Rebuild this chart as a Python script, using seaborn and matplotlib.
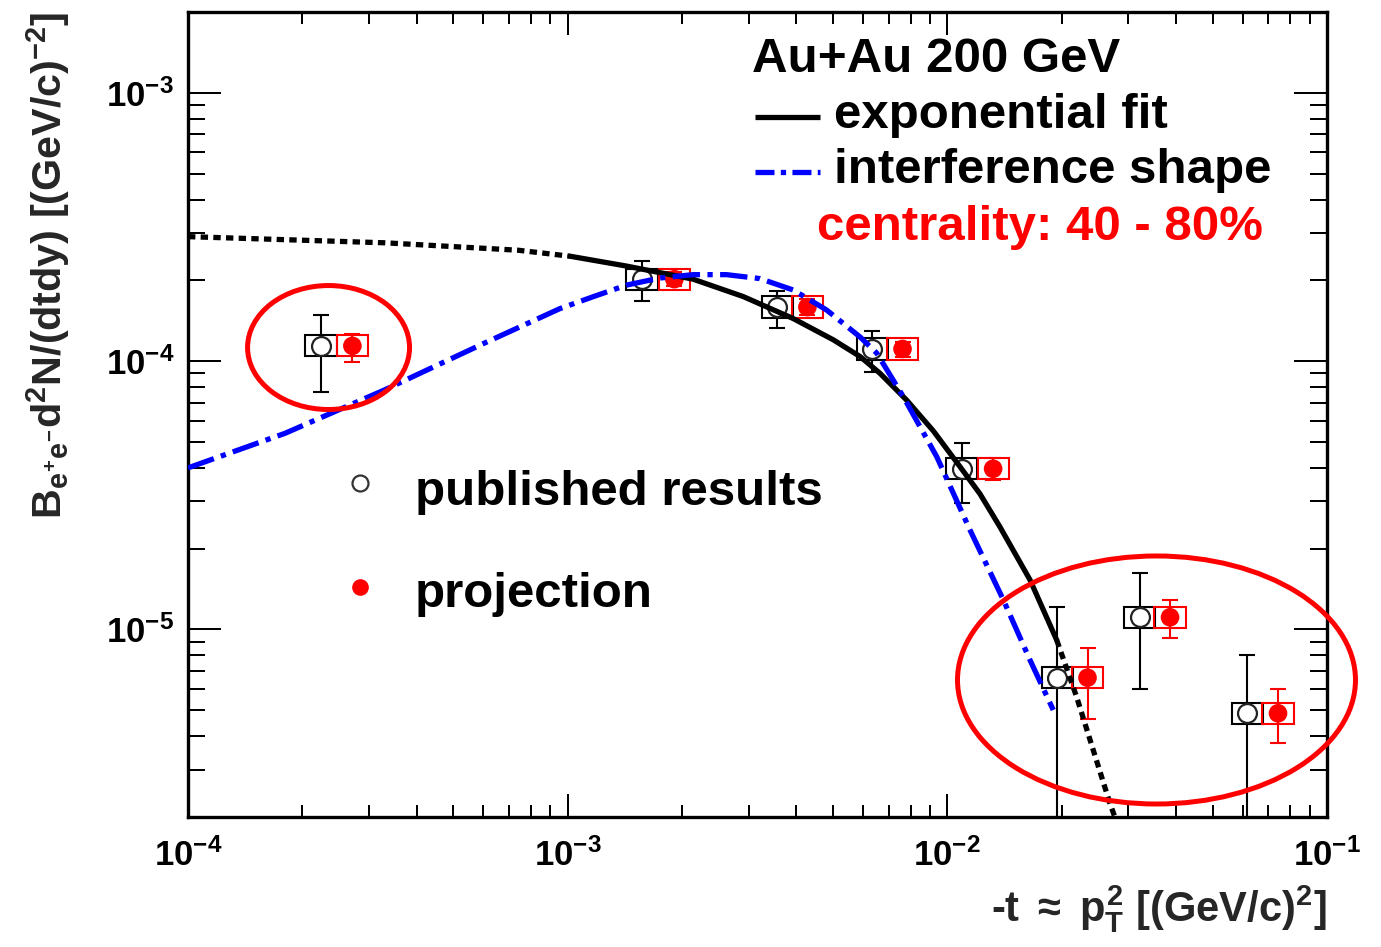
import numpy as np
import matplotlib
matplotlib.use("Agg")
import matplotlib.pyplot as plt
import seaborn as sns
from matplotlib.patches import Rectangle, Ellipse
from matplotlib.ticker import FixedLocator, FixedFormatter, LogLocator, NullFormatter

# ---- published results: -t, yield, upper / lower edge of stat. error ----
pub_t = [2.24e-4, 1.57e-3, 3.57e-3, 6.35e-3, 1.09e-2, 1.95e-2, 3.21e-2, 6.17e-2]
pub_y = [1.14e-4, 2.02e-4, 1.59e-4, 1.11e-4, 3.97e-5, 6.61e-6, 1.11e-5, 4.87e-6]
pub_hi = [1.48e-4, 2.37e-4, 1.82e-4, 1.30e-4, 4.95e-5, 1.21e-5, 1.63e-5, 8.0e-6]
pub_lo = [7.67e-5, 1.67e-4, 1.33e-4, 9.14e-5, 2.96e-5, 0.0, 5.98e-6, 0.0]

# ---- projection ----
proj_t = [2.71e-4, 1.91e-3, 4.28e-3, 7.62e-3, 1.32e-2, 2.34e-2, 3.86e-2, 7.43e-2]
proj_y = [1.14e-4, 2.02e-4, 1.59e-4, 1.11e-4, 3.97e-5, 6.61e-6, 1.11e-5, 4.87e-6]
proj_hi = [1.26e-4, 2.14e-4, 1.70e-4, 1.18e-4, 4.35e-5, 8.53e-6, 1.29e-5, 5.98e-6]
proj_lo = [9.96e-5, 1.90e-4, 1.49e-4, 1.04e-4, 3.60e-5, 4.63e-6, 9.31e-6, 3.78e-6]

# relative systematic uncertainty (half height of the boxes, multiplicative)
sys_factor = 1.095

# ---- exponential fit (solid inside the fit range, dotted outside) ----
fit_t = [1.0e-4, 3.3e-4, 7.4e-4, 1.014e-3, 1.43e-3, 2.14e-3, 2.90e-3, 3.93e-3,
         5.01e-3, 5.89e-3, 6.65e-3, 7.81e-3, 9.18e-3, 1.08e-2, 1.219e-2,
         1.376e-2, 1.651e-2, 1.941e-2, 2.19e-2, 2.68e-2, 2.78e-2]
fit_y = [2.91e-4, 2.76e-4, 2.59e-4, 2.46e-4, 2.26e-4, 2.02e-4, 1.74e-4, 1.44e-4,
         1.20e-4, 1.04e-4, 9.0e-5, 7.16e-5, 5.5e-5, 4.04e-5, 3.2e-5,
         2.41e-5, 1.53e-5, 9.13e-6, 5.61e-6, 2.25e-6, 1.95e-6]
fit_range = (1.014e-3, 1.941e-2)

# ---- interference shape ----
intf_t = [1.0e-4, 1.80e-4, 3.30e-4, 6.06e-4, 9.55e-4, 1.17e-3, 1.43e-3, 1.75e-3,
          2.14e-3, 2.62e-3, 3.21e-3, 3.93e-3, 4.81e-3, 5.89e-3, 6.52e-3,
          7.66e-3, 9.38e-3, 1.147e-2, 1.404e-2, 1.651e-2, 1.901e-2]
intf_y = [4.0e-5, 5.38e-5, 7.82e-5, 1.17e-4, 1.57e-4, 1.74e-4, 1.92e-4, 2.04e-4,
          2.10e-4, 2.10e-4, 2.03e-4, 1.84e-4, 1.55e-4, 1.23e-4, 1.07e-4,
          7.36e-5, 4.40e-5, 2.35e-5, 1.29e-5, 7.69e-6, 5.01e-6]

# ---- axes ticks ----
x_ticks = [1e-4, 1e-3, 1e-2, 1e-1]
x_tick_labels = [r"$10^{-4}$", r"$10^{-3}$", r"$10^{-2}$", r"$10^{-1}$"]
y_ticks = [1e-5, 1e-4, 1e-3]
y_tick_labels = [r"$10^{-5}$", r"$10^{-4}$", r"$10^{-3}$"]

XLABEL = r"-t $\approx$ $p_{T}^{2}$ [(GeV/c)$^{2}$]"
YLABEL = r"B$_{e^{+}e^{-}}$d$^{2}$N/(dtdy) [(GeV/c)$^{-2}$]"

sns.set_theme(style="ticks")
plt.rcParams.update({
    "font.family": ["Liberation Sans", "DejaVu Sans"],
    "font.weight": "bold",
    "mathtext.fontset": "custom",
    "mathtext.rm": "Liberation Sans:bold",
    "mathtext.it": "Liberation Sans:bold",
    "mathtext.bf": "Liberation Sans:bold",
    "mathtext.sf": "Liberation Sans:bold",
    "axes.edgecolor": "black",
    "axes.linewidth": 2.4,
    "xtick.color": "black",
    "ytick.color": "black",
})

LW = 3.8

fig = plt.figure(figsize=(13.81, 9.47), dpi=100)
ax = fig.add_axes([188 / 1381, 130 / 947, 1139 / 1381, 805 / 947])
ax.set_xscale("log")
ax.set_yscale("log")
ax.set_xlim(1e-4, 1e-1)
ax.set_ylim(2e-6, 2e-3)

# systematic boxes
box_w = 10 ** 0.041
for ts, ys, col in ((pub_t, pub_y, "black"), (proj_t, proj_y, "#ff0000")):
    for t, y in zip(ts, ys):
        ax.add_patch(Rectangle((t / box_w, y / sys_factor),
                               t * box_w - t / box_w,
                               y * sys_factor - y / sys_factor,
                               fill=False, ec=col, lw=1.5, zorder=2))

# statistical error bars
floor = 1e-12
pub_err = [np.array(pub_y) - np.maximum(pub_lo, floor), np.array(pub_hi) - np.array(pub_y)]
proj_err = [np.array(proj_y) - np.maximum(proj_lo, floor), np.array(proj_hi) - np.array(proj_y)]
ax.errorbar(pub_t, pub_y, yerr=pub_err, fmt="none", ecolor="black",
            elinewidth=1.5, capsize=5.5, capthick=1.5, zorder=3)
ax.errorbar(proj_t, proj_y, yerr=proj_err, fmt="none", ecolor="#ff0000",
            elinewidth=1.5, capsize=6, capthick=1.5, zorder=3)

# markers
sns.scatterplot(x=pub_t, y=pub_y, ax=ax, marker="o", s=185, color="white",
                edgecolor="#222222", linewidth=1.6, zorder=4)
sns.scatterplot(x=proj_t, y=proj_y, ax=ax, marker="o", s=180, color="#ff0000",
                edgecolor="none", linewidth=0, zorder=4)

# exponential fit
ft = np.array(fit_t)
fy = np.array(fit_y)
inside = (ft >= fit_range[0]) & (ft <= fit_range[1])
left = ft <= fit_range[0]
right = ft >= fit_range[1]
sns.lineplot(x=ft[inside], y=fy[inside], ax=ax, color="black",
             sort=False, estimator=None, zorder=5)
ax.lines[-1].set_linewidth(LW)
for m in (left, right):
    sns.lineplot(x=ft[m], y=fy[m], ax=ax, color="black",
                 sort=False, estimator=None, zorder=5)
    ln = ax.lines[-1]
    ln.set_linewidth(LW)
    ln.set_dashes([1.4, 1.0])
    ln.set_dash_capstyle("butt")

# interference shape
sns.lineplot(x=intf_t, y=intf_y, ax=ax, color="#0000ff",
             sort=False, estimator=None, zorder=5)
ln = ax.lines[-1]
ln.set_linewidth(LW)
ln.set_dashes([5.2, 1.4, 1.0, 1.4])

# highlighted regions
ax.add_patch(Ellipse((0.1234, 0.5832), 0.1422, 0.154, transform=ax.transAxes,
                     fill=False, ec="#ff0000", lw=3.6, zorder=6, clip_on=False))
ax.add_patch(Ellipse((0.8503, 0.1702), 0.3494, 0.3081, transform=ax.transAxes,
                     fill=False, ec="#ff0000", lw=3.6, zorder=6, clip_on=False))

# legend block, upper right
txt = dict(transform=ax.transAxes, fontsize=35.5, fontweight="bold",
           ha="left", va="baseline", zorder=7)
ax.text(0.4952, 0.9255, "Au+Au 200 GeV", color="black", **txt)
ax.plot([0.498, 0.555], [0.8696, 0.8696], transform=ax.transAxes,
        color="black", lw=LW, solid_capstyle="butt", clip_on=False, zorder=7)
ax.text(0.5672, 0.8555, "exponential fit", color="black", **txt)
blue_leg, = ax.plot([0.498, 0.555], [0.8016, 0.8016], transform=ax.transAxes,
                    color="#0000ff", lw=LW, clip_on=False, zorder=7)
blue_leg.set_dashes([3.6, 1.2, 1.0, 1.2])
ax.text(0.5672, 0.7872, "interference shape", color="black", **txt)
ax.text(0.5522, 0.7168, "centrality: 40 - 80%", color="#ff0000", **txt)

# legend block, middle left
ax.plot([0.151], [0.4145], transform=ax.transAxes, marker="o", ms=11.5,
        mfc="white", mec="#333333", mew=1.6, ls="none", zorder=7)
ax.text(0.1993, 0.3876, "published results", color="black", **txt)
ax.plot([0.151], [0.2861], transform=ax.transAxes, marker="o", ms=12,
        mfc="#ff0000", mec="none", ls="none", zorder=7)
ax.text(0.1993, 0.2610, "projection", color="black", **txt)

# ticks
ax.xaxis.set_major_locator(FixedLocator(x_ticks))
ax.xaxis.set_major_formatter(FixedFormatter(x_tick_labels))
ax.xaxis.set_minor_locator(LogLocator(base=10, subs=np.arange(2, 10), numticks=20))
ax.xaxis.set_minor_formatter(NullFormatter())
ax.yaxis.set_major_locator(FixedLocator(y_ticks))
ax.yaxis.set_major_formatter(FixedFormatter(y_tick_labels))
ax.yaxis.set_minor_locator(LogLocator(base=10, subs=np.arange(2, 10), numticks=20))
ax.yaxis.set_minor_formatter(NullFormatter())
ax.tick_params(which="both", direction="in", top=True, right=True, width=1.44)
ax.tick_params(axis="x", which="major", length=16.5, pad=15, labelsize=25)
ax.tick_params(axis="x", which="minor", length=8.6)
ax.tick_params(axis="y", which="major", length=24, pad=10, labelsize=25)
ax.tick_params(axis="y", which="minor", length=12)
for sp in ax.spines.values():
    sp.set_visible(True)
    sp.set_linewidth(2.4)
    sp.set_color("black")

ax.set_xlabel(XLABEL, fontsize=30, fontweight="bold", loc="right")
ax.xaxis.set_label_coords(1.0, -0.082)
ax.set_ylabel(YLABEL, fontsize=29.7, fontweight="bold", loc="top")
ax.yaxis.set_label_coords(-0.102, 1.0)

fig.savefig("out.png", dpi=100, facecolor="white")
